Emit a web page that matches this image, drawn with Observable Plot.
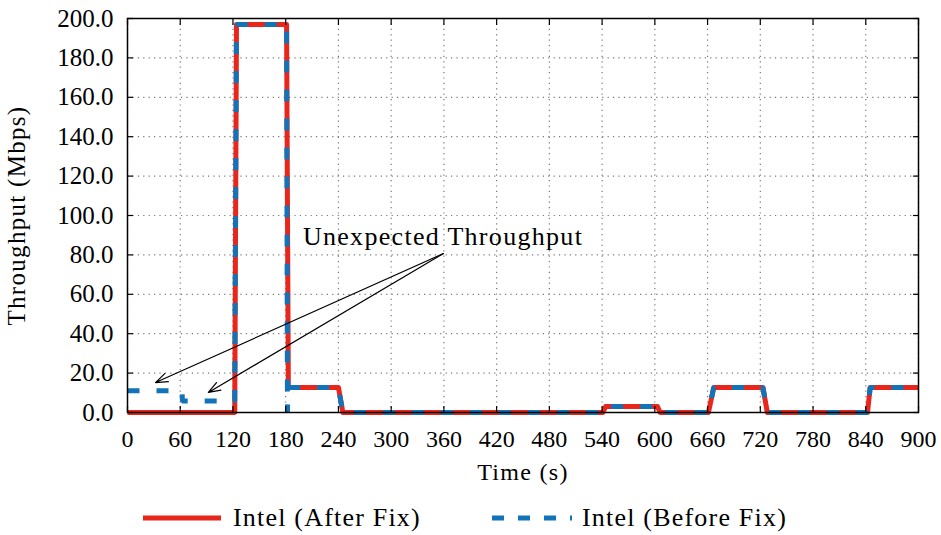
<!DOCTYPE html>
<html><head><meta charset="utf-8">
<script src="https://cdn.jsdelivr.net/npm/d3@7"></script>
<script src="https://cdn.jsdelivr.net/npm/@observablehq/plot@0.6"></script>
<style>
body{margin:0;background:#fff;font-family:"Liberation Serif",serif;}
#wrap{position:relative;width:941px;height:535px;overflow:hidden;}
.leg{position:absolute;top:500px;height:36px;display:flex;align-items:center;font-size:26px;letter-spacing:1.2px;color:#000;white-space:nowrap;}
.leg svg{display:block;}
g[aria-label="x-axis label"] text, g[aria-label="y-axis label"] text, g[aria-label="text"] text{letter-spacing:1.3px;}
</style></head><body><div id="wrap"><div id="chart"></div>
<div class="leg" style="left:143px"><svg width="78" height="10"><line x1="0" y1="5" x2="78" y2="5" stroke="#e8261c" stroke-width="5"/></svg><span style="margin-left:12px">Intel (After Fix)</span></div>
<div class="leg" style="left:492px"><svg width="80" height="10"><line x1="0" y1="5" x2="80" y2="5" stroke="#1273b8" stroke-width="5" stroke-dasharray="12,14"/></svg><span style="margin-left:10px">Intel (Before Fix)</span></div>
</div>
<script>
// Series: Intel (After Fix)
const afterTime = [0, 122, 124, 181, 183, 240, 245, 541, 544, 603, 606, 661, 667, 723, 728, 842, 845, 900];
const afterMbps = [0, 0, 197, 197, 12.7, 12.7, 0, 0, 3, 3, 0, 0, 12.7, 12.7, 0, 0, 12.7, 12.7];
// Series: Intel (Before Fix)
const beforeTime = [0, 62, 62.5, 122, 124, 181, 182, 182.5, 240, 245, 541, 544, 603, 606, 661, 667, 723, 728, 842, 845, 900];
const beforeMbps = [11, 11, 5.8, 5.8, 197, 197, 0, 12.7, 12.7, 0, 0, 3, 3, 0, 0, 12.7, 12.7, 0, 0, 12.7, 12.7];
// Ticks
const xTicks = [0, 60, 120, 180, 240, 300, 360, 420, 480, 540, 600, 660, 720, 780, 840, 900];
const yTicks = [0, 20, 40, 60, 80, 100, 120, 140, 160, 180, 200];
// Annotation
const noteText = ["Unexpected Throughput"];
const noteTime = [359];
const noteMbps = [89];
const arrowFromTime = [359.5, 359.5];
const arrowFromMbps = [80.7, 80.7];
const arrowToTime = [31.9, 92];
const arrowToMbps = [15.2, 10.2];

const after = afterTime.map((t, i) => ({t, v: afterMbps[i]}));
const before = beforeTime.map((t, i) => ({t, v: beforeMbps[i]}));
const notes = noteText.map((s, i) => ({s, t: noteTime[i], v: noteMbps[i]}));
const arrows = arrowToTime.map((t, i) => ({x1: arrowFromTime[i], y1: arrowFromMbps[i], x2: t, y2: arrowToMbps[i]}));

const chart = Plot.plot({
  width: 941, height: 490,
  marginLeft: 127, marginRight: 23, marginTop: 18, marginBottom: 78,
  x: {domain: [0, 900]},
  y: {domain: [0, 200]},
  style: {fontFamily: "'Liberation Serif', serif", fontSize: "24px", background: "white", color: "black", overflow: "visible"},
  marks: [
    Plot.gridX(xTicks, {stroke: "#777", strokeOpacity: 1, strokeWidth: 1.2, strokeDasharray: "1.2,4.2"}),
    Plot.gridY(yTicks, {stroke: "#777", strokeOpacity: 1, strokeWidth: 1.2, strokeDasharray: "1.2,4.2"}),
    Plot.line(after, {x: "t", y: "v", stroke: "#e8261c", strokeWidth: 5, strokeLinejoin: "round", strokeLinecap: "butt"}),
    Plot.line(before, {x: "t", y: "v", stroke: "#1273b8", strokeWidth: 5, strokeDasharray: "12,17", strokeLinejoin: "miter", strokeLinecap: "butt"}),
    Plot.frame({stroke: "black", strokeWidth: 1.5}),
    Plot.axisX(xTicks, {anchor: "bottom", tickSize: -6, fill: "none", strokeWidth: 1.2}),
    Plot.axisX(xTicks, {anchor: "top", tickSize: -6, fill: "none", strokeWidth: 1.2}),
    Plot.axisY(yTicks, {anchor: "left", tickSize: -6, fill: "none", strokeWidth: 1.2}),
    Plot.axisY(yTicks, {anchor: "right", tickSize: -6, fill: "none", strokeWidth: 1.2}),
    Plot.axisX(xTicks, {anchor: "bottom", tickSize: 0, tickPadding: 17, stroke: "none", fontSize: 24,
      label: "Time (s)", labelAnchor: "center", labelOffset: 67, labelArrow: "none"}),
    Plot.axisY(yTicks, {anchor: "left", tickSize: 0, tickPadding: 14, stroke: "none", fontSize: 25,
      tickFormat: d => d.toFixed(1),
      label: "Throughput (Mbps)", labelAnchor: "center", labelOffset: 120, labelArrow: "none"}),
    Plot.arrow(arrows, {x1: "x1", y1: "y1", x2: "x2", y2: "y2", stroke: "black", strokeWidth: 1.2, headLength: 16, headAngle: 40, insetStart: 0, insetEnd: 0}),
    Plot.text(notes, {x: "t", y: "v", text: "s", fontSize: 26, textAnchor: "middle", fill: "black"})
  ]
});
document.getElementById("chart").appendChild(chart);
</script>
</body></html>
